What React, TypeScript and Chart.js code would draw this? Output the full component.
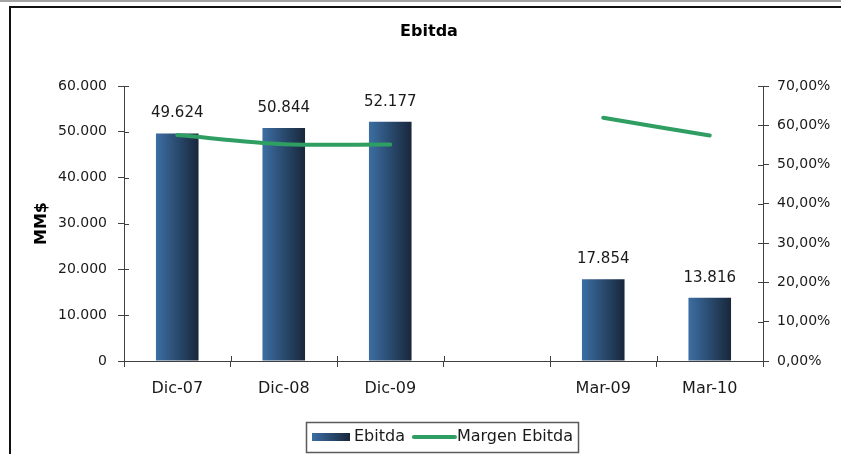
import React, { useEffect, useRef } from "react";
import { Chart, registerables } from "chart.js";

Chart.register(...registerables);

const categories = ["Dic-07", "Dic-08", "Dic-09", "", "Mar-09", "Mar-10"];
const ebitdaValues: (number | null)[] = [49624, 50844, 52177, null, 17854, 13816];
const margenValues: (number | null)[] = [57.5, 55.2, 55.1, null, 61.9, 57.4];
const chartTitle = "Ebitda";
const leftAxisTitle = "MM$";
const seriesNames = ["Ebitda", "Margen Ebitda"];

const FONT = "'DejaVu Sans', sans-serif";
const W = 841;
const H = 454;
const BAR_FRACTION = 0.4;
const GREEN = "#2E9E62";
const BLUE_LIGHT = "#3C6EA3";
const BLUE_DARK = "#18273B";
const AXIS = "#404040";
const TEXT = "#1a1a1a";

const fmtThousands = (v: number) =>
  String(Math.round(v)).replace(/\B(?=(\d{3})+(?!\d))/g, ".");
const fmtPct = (v: number) => v.toFixed(2).replace(".", ",") + "%";

const decorPlugin = {
  id: "decor",
  beforeDraw(chart: any) {
    const ctx = chart.ctx as CanvasRenderingContext2D;
    ctx.save();
    ctx.fillStyle = "#ffffff";
    ctx.fillRect(0, 0, W, H);
    ctx.fillStyle = "#a3a3a3";
    ctx.fillRect(0, 0, W, 2);
    ctx.fillStyle = "#111111";
    ctx.fillRect(9, 6, W - 9, 2);
    ctx.fillRect(9, 6, 2, H - 6);
    // title
    ctx.font = `bold 16px ${FONT}`;
    ctx.fillStyle = "#000";
    ctx.textAlign = "center";
    ctx.textBaseline = "middle";
    ctx.fillText(chartTitle, 429, 32);
    // left axis title
    const ca = chart.chartArea;
    ctx.save();
    ctx.translate(42, (ca.top + ca.bottom) / 2);
    ctx.rotate(-Math.PI / 2);
    ctx.fillText(leftAxisTitle, 0, 0);
    ctx.restore();
    ctx.restore();
  },
  afterDraw(chart: any) {
    const ctx = chart.ctx as CanvasRenderingContext2D;
    const ca = chart.chartArea;
    ctx.save();
    ctx.strokeStyle = AXIS;
    ctx.lineWidth = 1;
    // inner tick parts
    const ys = chart.scales.y;
    ys.ticks.forEach((_: any, i: number) => {
      const y = Math.round(ys.getPixelForTick(i)) + 0.5;
      ctx.beginPath();
      ctx.moveTo(ca.left, y);
      ctx.lineTo(ca.left + 5, y);
      ctx.stroke();
    });
    const y1 = chart.scales.y1;
    y1.ticks.forEach((_: any, i: number) => {
      const y = Math.round(y1.getPixelForTick(i)) + 0.5;
      ctx.beginPath();
      ctx.moveTo(ca.right - 5, y);
      ctx.lineTo(ca.right, y);
      ctx.stroke();
    });
    const n = categories.length;
    for (let i = 0; i <= n; i++) {
      const x = Math.round(ca.left + (i * (ca.right - ca.left)) / n) + 0.5;
      ctx.beginPath();
      ctx.moveTo(x, ca.bottom - 5);
      ctx.lineTo(x, ca.bottom);
      ctx.stroke();
    }
    // data labels (bar dataset is index 1)
    const meta = chart.getDatasetMeta(1);
    ctx.font = `15px ${FONT}`;
    ctx.fillStyle = TEXT;
    ctx.textAlign = "center";
    ctx.textBaseline = "middle";
    meta.data.forEach((bar: any, i: number) => {
      const v = ebitdaValues[i];
      if (v == null) return;
      ctx.fillText(fmtThousands(v), bar.x, bar.y - 20);
    });
    // legend
    ctx.font = `16px ${FONT}`;
    const w1 = ctx.measureText(seriesNames[0]).width;
    const w2 = ctx.measureText(seriesNames[1]).width;
    const padL = 6, icon = 38, g1 = 4, g2 = 9, line = 41, g3 = 2, padR = 5;
    const total = padL + icon + g1 + w1 + g2 + line + g3 + w2 + padR;
    const left = Math.round(442 - total / 2);
    const top = 422, h = 30, cy = 437;
    ctx.strokeStyle = "#5a5a5a";
    ctx.lineWidth = 1.5;
    ctx.strokeRect(left + 0.5, top + 0.5, Math.round(total), h);
    let x = left + padL;
    const grad = ctx.createLinearGradient(x, 0, x + icon, 0);
    grad.addColorStop(0, BLUE_LIGHT);
    grad.addColorStop(1, BLUE_DARK);
    ctx.fillStyle = grad;
    ctx.fillRect(x, cy - 4, icon, 8);
    x += icon + g1;
    ctx.fillStyle = TEXT;
    ctx.textAlign = "left";
    ctx.fillText(seriesNames[0], x, cy);
    x += w1 + g2;
    ctx.strokeStyle = GREEN;
    ctx.lineWidth = 4;
    ctx.lineCap = "round";
    ctx.beginPath();
    ctx.moveTo(x, cy);
    ctx.lineTo(x + line, cy);
    ctx.stroke();
    x += line + g3;
    ctx.fillText(seriesNames[1], x, cy);
    ctx.restore();
  },
};

export default function App() {
  const ref = useRef<HTMLCanvasElement | null>(null);
  useEffect(() => {
    if (!ref.current) return;
    Chart.defaults.font.family = FONT;
    const chart = new Chart(ref.current, {
      type: "bar",
      data: {
        labels: categories,
        datasets: [
          {
            type: "line",
            label: seriesNames[1],
            data: margenValues,
            yAxisID: "y1",
            borderColor: GREEN,
            borderWidth: 4,
            pointRadius: 0,
            tension: 0.3,
            spanGaps: false,
            borderCapStyle: "round",
            order: 0,
          } as any,
          {
            type: "bar",
            label: seriesNames[0],
            data: ebitdaValues,
            yAxisID: "y",
            barPercentage: BAR_FRACTION,
            categoryPercentage: 1,
            order: 1,
            backgroundColor: (c: any) => {
              const ch = c.chart;
              const xs = ch.scales?.x;
              if (!xs || c.dataIndex == null || !ch.chartArea) return BLUE_LIGHT;
              const cx = xs.getPixelForValue(c.dataIndex);
              const w = (xs.width / categories.length) * BAR_FRACTION;
              const g = ch.ctx.createLinearGradient(cx - w / 2, 0, cx + w / 2, 0);
              g.addColorStop(0, BLUE_LIGHT);
              g.addColorStop(1, BLUE_DARK);
              return g;
            },
          } as any,
        ],
      },
      options: {
        responsive: false,
        animation: false,
        layout: { padding: { top: 86, left: 0, right: 0, bottom: 0 } },
        plugins: {
          legend: { display: false },
          title: { display: false },
          tooltip: { enabled: false },
        },
        scales: {
          x: {
            offset: true,
            grid: {
              offset: true,
              drawOnChartArea: false,
              drawTicks: true,
              tickLength: 6,
              color: AXIS,
            },
            border: { display: true, color: AXIS, width: 1 },
            ticks: { color: TEXT, font: { size: 16, family: FONT }, padding: 12, maxRotation: 0 },
            afterFit: (s: any) => {
              s.height = H - 361;
            },
          },
          y: {
            position: "left",
            min: 0,
            max: 60000,
            grid: { drawOnChartArea: false, tickLength: 6, color: AXIS },
            border: { display: true, color: AXIS, width: 1 },
            ticks: {
              stepSize: 10000,
              color: TEXT,
              font: { size: 14, family: FONT },
              padding: 11,
              callback: (v: any) => fmtThousands(Number(v)),
            },
            afterFit: (s: any) => {
              s.width = 124;
            },
          },
          y1: {
            position: "right",
            min: 0,
            max: 70,
            grid: { drawOnChartArea: false, tickLength: 6, color: AXIS },
            border: { display: true, color: AXIS, width: 1 },
            ticks: {
              stepSize: 10,
              color: TEXT,
              font: { size: 14, family: FONT },
              padding: 8,
              callback: (v: any) => fmtPct(Number(v)),
            },
            afterFit: (s: any) => {
              s.width = W - 763;
            },
          },
        },
      },
      plugins: [decorPlugin as any],
    });
    return () => chart.destroy();
  }, []);
  return (
    <div style={{ position: "fixed", left: 0, top: 0, width: W, height: H, background: "#fff" }}>
      <canvas ref={ref} width={W} height={H} style={{ width: W, height: H, display: "block" }} />
    </div>
  );
}
